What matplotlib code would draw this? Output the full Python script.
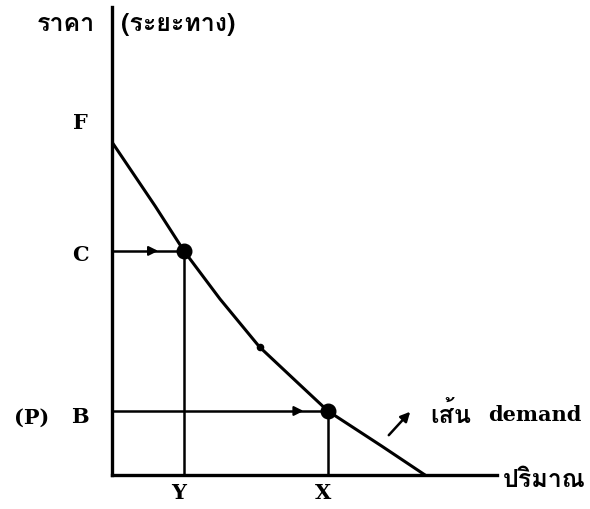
import matplotlib
matplotlib.use('Agg')
import matplotlib.pyplot as plt
from matplotlib import font_manager
import numpy as np

# demand curve (quantity in units of Y, price in units of B)
qty = [0.0, 0.6, 1.0, 1.5, 2.05, 2.6, 3.0, 3.75, 4.35]
price = [5.2, 4.2, 3.5, 2.75, 2.0, 1.42, 1.0, 0.45, 0.0]

# marked points on the curve: (Y, C) and (X, B)
pt_q = [1.0, 3.0]
pt_p = [3.5, 1.0]
pt_names_q = ['Y', 'X']
arrow_tip = [0.68, 2.7]

mid_q, mid_p = 2.05, 2.0
F_level = 5.5


def find_thai_font():
    # look for any installed font that has Thai glyphs
    try:
        from fontTools.ttLib import TTFont
    except ImportError:
        return None
    for f in font_manager.fontManager.ttflist:
        try:
            tt = TTFont(f.fname, fontNumber=0, lazy=True)
            cmap = tt.getBestCmap()
            if cmap and 0x0E23 in cmap and 0x0E32 in cmap:
                return f.name
        except Exception:
            continue
    return None


thai = find_thai_font()
thai_family = [thai, 'DejaVu Sans'] if thai else ['DejaVu Sans']

serif = dict(family='DejaVu Serif', weight='bold', fontsize=15)
thai_kw = dict(family=thai_family, weight='bold', fontsize=18)

fig = plt.figure(figsize=(5.9, 5.09), dpi=100)
ax = fig.add_axes([112 / 590, 34 / 509, (497 - 112) / 590, (475 - 7) / 509])
ax.set_xlim(0, 5.35)
ax.set_ylim(0, 7.31)
for s in ['top', 'right']:
    ax.spines[s].set_visible(False)
for s in ['left', 'bottom']:
    ax.spines[s].set_linewidth(2.4)
ax.set_xticks([])
ax.set_yticks([])

ax.plot(qty, price, color='black', lw=2.2, solid_capstyle='round',
        solid_joinstyle='round')

# guide lines to the axes
for q, p, tip in zip(pt_q, pt_p, arrow_tip):
    ax.plot([0, q], [p, p], color='black', lw=1.8)
    ax.plot([q, q], [0, p], color='black', lw=1.8)
    ax.annotate('', xy=(tip, p), xytext=(tip - 0.2, p),
                arrowprops=dict(arrowstyle='-|>', color='black', lw=1.5,
                                mutation_scale=14))
ax.scatter(pt_q, pt_p, s=110, color='black', zorder=3)
ax.scatter([mid_q], [mid_p], s=20, color='black', zorder=3)

# labels
for q, name in zip(pt_q, pt_names_q):
    ax.text(q - 0.07, -0.28, name, ha='center', va='center', clip_on=False, **serif)
ax.text(-0.44, 3.44, 'C', ha='center', va='center', clip_on=False, **serif)
ax.text(-0.44, 0.9, 'B', ha='center', va='center', clip_on=False, **serif)
ax.text(-1.11, 0.9, '(P)', ha='center', va='center', clip_on=False, **serif)
ax.text(-0.44, F_level, 'F', ha='center', va='center', clip_on=False, **serif)

ax.text(-0.64, 7.03, 'ราคา', ha='center', va='center', clip_on=False, **thai_kw)
ax.text(0.12, 7.03, '(ระยะทาง)', ha='left', va='center', clip_on=False, **thai_kw)
ax.text(5.43, -0.08, 'ปริมาณ', ha='left', va='center', clip_on=False, **thai_kw)

ax.annotate('', xy=(4.17, 1.02), xytext=(3.82, 0.59),
            arrowprops=dict(arrowstyle='-|>', color='black', lw=1.8,
                            mutation_scale=14))
ax.text(4.42, 0.94, 'เส้น', ha='left', va='center', clip_on=False, **thai_kw)
ax.text(5.22, 0.94, 'demand', ha='left', va='center', clip_on=False, **serif)

fig.savefig('out.png', dpi=100)
